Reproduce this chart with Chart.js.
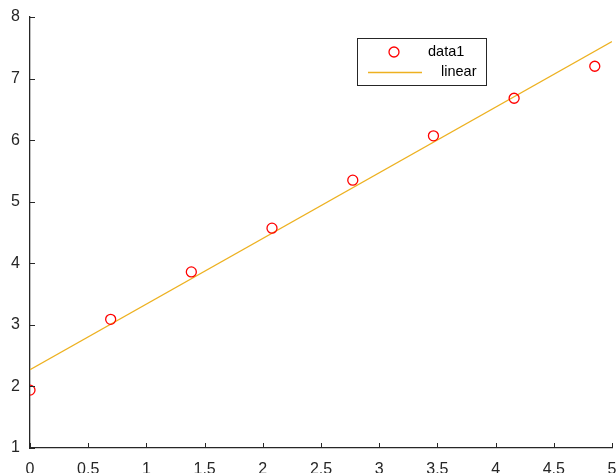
<!DOCTYPE html>
<html>
<head>
<meta charset="utf-8">
<script src="https://cdn.jsdelivr.net/npm/chart.js@4"></script>
<style>
  html, body { margin: 0; padding: 0; background: #fff; }
  #wrap { width: 616px; height: 473px; }
</style>
</head>
<body>
<div id="wrap"><canvas id="fit-chart" width="616" height="473"></canvas></div>
<script>
const xData = [0, 0.693, 1.386, 2.079, 2.773, 3.466, 4.159, 4.852];
const yData = [1.94, 3.09, 3.86, 4.57, 5.35, 6.07, 6.68, 7.20];
const fitX = [0, 5];
const fitY = [2.27, 7.60];
const seriesNames = ['data1', 'linear'];

const axisColor = '#262626';
const markerColor = '#ff0000';
const lineColor = '#edb120';

// ticks point inward, MATLAB style
const inwardTicks = {
  id: 'inwardTicks',
  afterDatasetsDraw(chart) {
    const { ctx, chartArea, scales } = chart;
    ctx.save();
    ctx.strokeStyle = axisColor;
    ctx.lineWidth = 1;
    ctx.beginPath();
    scales.x.ticks.forEach(t => {
      const px = Math.round(scales.x.getPixelForValue(t.value)) + 0.5;
      ctx.moveTo(px, chartArea.bottom);
      ctx.lineTo(px, chartArea.bottom - 5);
    });
    scales.y.ticks.forEach(t => {
      const py = Math.round(scales.y.getPixelForValue(t.value)) + 0.5;
      ctx.moveTo(chartArea.left, py);
      ctx.lineTo(chartArea.left + 5, py);
    });
    ctx.stroke();
    ctx.restore();
  }
};

const boxLegend = {
  id: 'boxLegend',
  afterDraw(chart) {
    const { ctx } = chart;
    const x = 357, y = 38, w = 129, h = 47;
    ctx.save();
    ctx.fillStyle = '#fff';
    ctx.fillRect(x, y, w, h);
    ctx.strokeStyle = '#262626';
    ctx.lineWidth = 1;
    ctx.strokeRect(x + 0.5, y + 0.5, w, h);

    ctx.strokeStyle = markerColor;
    ctx.lineWidth = 1.3;
    ctx.beginPath();
    ctx.arc(394, 52, 5, 0, Math.PI * 2);
    ctx.stroke();

    ctx.strokeStyle = lineColor;
    ctx.beginPath();
    ctx.moveTo(368, 72.5);
    ctx.lineTo(422, 72.5);
    ctx.stroke();

    ctx.fillStyle = '#000';
    ctx.font = '14.5px "Liberation Sans", Arial, sans-serif';
    ctx.textBaseline = 'middle';
    ctx.fillText(seriesNames[0], 428, 52);
    ctx.fillText(seriesNames[1], 441, 72);
    ctx.restore();
  }
};

const tickFont = { family: '"Liberation Sans", Arial, sans-serif', size: 16 };

new Chart(document.getElementById('fit-chart').getContext('2d'), {
  type: 'scatter',
  data: {
    datasets: [
      {
        label: seriesNames[0],
        data: xData.map((v, i) => ({ x: v, y: yData[i] })),
        pointStyle: 'circle',
        pointRadius: 5,
        pointBorderWidth: 1.3,
        pointBorderColor: markerColor,
        pointBackgroundColor: 'rgba(0,0,0,0)',
        showLine: false,
        order: 1
      },
      {
        label: seriesNames[1],
        data: fitX.map((v, i) => ({ x: v, y: fitY[i] })),
        showLine: true,
        borderColor: lineColor,
        borderWidth: 1.3,
        pointRadius: 0,
        order: 2
      }
    ]
  },
  options: {
    responsive: false,
    animation: false,
    layout: { autoPadding: false, padding: { top: 17, right: 4, left: 0, bottom: 0 } },
    plugins: { legend: { display: false }, tooltip: { enabled: false } },
    scales: {
      x: {
        type: 'linear',
        min: 0,
        max: 5,
        afterFit(scale) {
          scale.height = 25;
          scale.paddingLeft = 0;
          scale.paddingRight = 0;
        },
        grid: { display: false },
        border: { display: true, color: axisColor, width: 1.3 },
        ticks: {
          stepSize: 0.5, color: axisColor, font: tickFont, padding: 4,
          maxRotation: 0, autoSkip: false,
          callback: v => String(+v.toFixed(1))
        }
      },
      y: {
        type: 'linear',
        min: 1,
        max: 8,
        afterFit(scale) {
          scale.width = 30;
          scale.paddingTop = 0;
          scale.paddingBottom = 0;
        },
        grid: { display: false },
        border: { display: true, color: axisColor, width: 1.3 },
        ticks: { stepSize: 1, color: axisColor, font: tickFont, padding: 2 }
      }
    }
  },
  plugins: [inwardTicks, boxLegend]
});
</script>
</body>
</html>
